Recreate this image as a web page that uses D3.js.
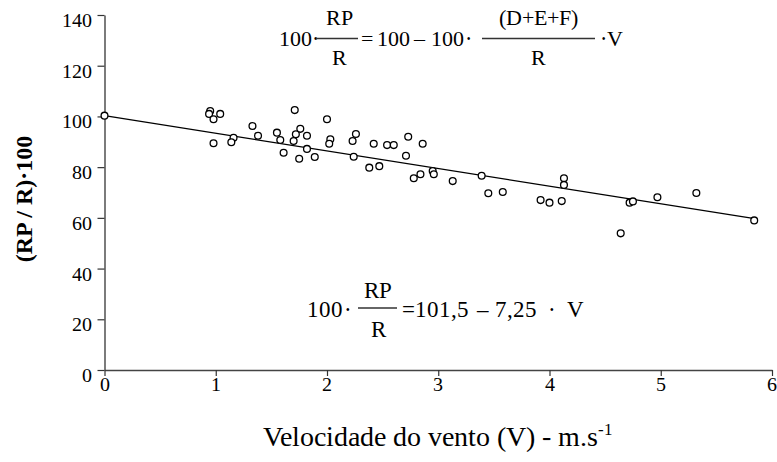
<!DOCTYPE html>
<html><head><meta charset="utf-8">
<script src="https://cdn.jsdelivr.net/npm/d3@7"></script>
<style>body{margin:0;background:#fff}svg{display:block}
@font-face{font-family:"MySerif";src:local("Liberation Serif"),local("LiberationSerif");}
@font-face{font-family:"MySerif2";src:local("LiberationSerif-Regular");}
</style>
</head><body><svg id="c" width="777" height="462"></svg>
<script>
const windSpeed = [0.00,0.95,0.94,1.04,0.98,0.98,1.16,1.14,1.33,1.38,1.55,1.58,1.61,1.71,1.76,1.72,1.70,1.82,1.82,1.75,1.89,2.00,2.03,2.02,2.26,2.23,2.24,2.42,2.54,2.60,2.73,2.86,2.71,2.38,2.47,2.78,2.84,2.95,2.96,3.13,3.39,3.45,3.58,3.92,4.00,4.11,4.13,4.13,4.64,4.72,4.75,4.97,5.32,5.84];
const ratio = [100.3,102.1,101.0,101.0,98.9,89.4,91.6,89.8,96.2,92.4,93.6,90.7,85.7,102.5,95.1,93.0,90.3,92.4,87.2,83.3,84.0,98.9,91.0,89.2,93.1,90.3,84.1,89.2,88.7,88.7,92.0,89.2,84.5,79.8,80.4,75.6,77.2,78.5,77.2,74.5,76.6,69.7,70.2,67.0,66.0,66.6,75.6,73.0,53.9,66.0,66.5,68.1,69.8,59.0];
const fitX = [0, 5.83];
const fitY = [100.3, 59.8];
const xTicks = [0,1,2,3,4,5,6];
const yTicks = [0,20,40,60,80,100,120,140];
const xTitle = "Velocidade do vento (V) - m.s";
const xTitleSup = "-1";
const yTitle = "(RP / R)·100";

const FONT = '"MySerif", "Liberation Serif", "Times New Roman", Times, serif';
const svg = d3.select("#c");
const x = d3.scaleLinear().domain([0,6]).range([104.5,772]);
const y = d3.scaleLinear().domain([0,140]).range([370,15]);

function txt(xp, yp, s, fs, anchor){
  return svg.append("text").attr("x",xp).attr("y",yp)
    .style("font-size",fs+"px").style("font-family",FONT)
    .attr("text-anchor",anchor||"start").text(s);
}

// axes
const xAxis = svg.append("g").attr("transform","translate(0,370)")
  .call(d3.axisBottom(x).tickValues(xTicks).tickSize(6).tickSizeOuter(0).tickFormat(""));
const yAxis = svg.append("g").attr("transform","translate(104.5,0)")
  .call(d3.axisLeft(y).tickValues(yTicks).tickSize(7).tickSizeOuter(0).tickFormat(""));
[xAxis,yAxis].forEach(g=>{
  g.attr("font-family",null);
  g.select(".domain").attr("stroke","#444").attr("stroke-width",1.4);
  g.selectAll(".tick line").attr("stroke","#333").attr("stroke-width",1.2);
});
xTicks.forEach(v=>txt(x(v),391,String(v),20,"middle"));
yTicks.forEach(v=>txt(92,y(v)+12,String(v),20,"end"));

// fit line
svg.append("path")
  .datum(fitX.map((v,i)=>[v,fitY[i]]))
  .attr("d", d3.line().x(d=>x(d[0])).y(d=>y(d[1])))
  .attr("fill","none").attr("stroke","#000").attr("stroke-width",1.3);

// points
svg.append("g").selectAll("circle").data(windSpeed.map((v,i)=>[v,ratio[i]])).join("circle")
  .attr("cx",d=>x(d[0])).attr("cy",d=>y(d[1])).attr("r",3.4)
  .attr("fill","#fff").attr("stroke","#000").attr("stroke-width",1.3);

// axis titles
const xt = txt(437.5,446,"",28,"middle");
xt.append("tspan").text(xTitle);
xt.append("tspan").style("font-size","17px").attr("dy",-11).text(xTitleSup);
svg.append("text").attr("transform","translate(32,199) rotate(-90)").attr("text-anchor","middle")
  .style("font-size","24px").style("font-family",'"Liberation Serif", "Times New Roman", serif').style("font-weight","bold").text(yTitle);

// equations
function frac(cx, x1, x2, numY, barY, denY, num, den, fs){
  txt(cx, numY, num, fs, "middle");
  svg.append("line").attr("x1",x1).attr("x2",x2).attr("y1",barY).attr("y2",barY).attr("stroke","#333").attr("stroke-width",1.3);
  txt(cx, denY, den, fs, "middle");
}
// top equation
txt(279,46,"100·",22);
frac(339,316,358,25,38.5,65,"RP","R",22);
txt(361,46,"=",22);
txt(377,46,"100",22);
txt(414,46,"–",22);
txt(431,46,"100",22);
txt(465,46,"·",22);
frac(538,482,595,25,38.5,65,"(D+E+F)","R",22);
txt(600,46,"·V",22);

// bottom equation
txt(307,317,"100",23);
txt(344,317,"·",23);
frac(378,358,397,298,308,337,"RP","R",23);
txt(402,317,"=",23);
txt(415,317,"101,5",23);
txt(477,317,"–",23);
txt(495,317,"7,25",23);
txt(548,317,"·",23);
txt(567,317,"V",23);
</script></body></html>
